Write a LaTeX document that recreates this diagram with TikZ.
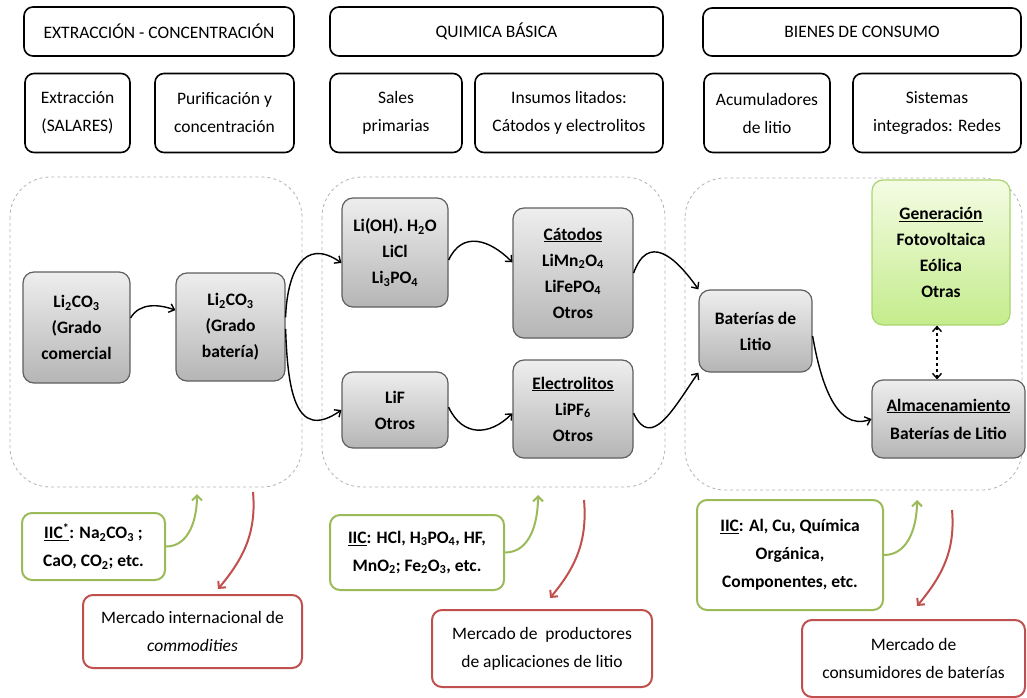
\documentclass[tikz,border=0pt]{standalone}
\usepackage{fontspec}
\setmainfont{Carlito}
\usetikzlibrary{arrows.meta}
\definecolor{boxline}{HTML}{5F5F5F}
\definecolor{boxtop}{HTML}{EEEEEE}
\definecolor{boxbot}{HTML}{B5B5B5}
\definecolor{iicgreen}{HTML}{9BBB59}
\definecolor{mktred}{HTML}{C0504D}
\definecolor{gentop}{HTML}{F4FCE3}
\definecolor{genbot}{HTML}{C4EC8C}
\definecolor{genline}{HTML}{A9D46F}
\begin{document}
\begin{tikzpicture}[x=1pt,y=-1pt,
	hdr/.style={draw,line width=1.6pt,rounded corners=9pt,align=center,inner sep=2pt,font=\fontsize{17.5}{28}\selectfont},
	proc/.style={draw=boxline,line width=1.2pt,rounded corners=11pt,top color=boxtop,bottom color=boxbot,align=center,inner sep=2pt,font=\bfseries\fontsize{17.5}{26}\selectfont},
	gen/.style={proc,draw=genline,top color=gentop,bottom color=genbot},
	grp/.style={draw=gray!60,dashed,line width=0.8pt,rounded corners=40pt},
	iic/.style={draw=iicgreen,line width=2pt,rounded corners=10pt,fill=white,align=center,inner sep=2pt,font=\bfseries\fontsize{17.5}{28}\selectfont},
	mkt/.style={draw=mktred,line width=2pt,rounded corners=10pt,fill=white,align=center,inner sep=2pt,font=\fontsize{17.5}{28}\selectfont},
	flow/.style={line width=1.4pt,-{Straight Barb[length=5pt,width=9pt]}},
	gin/.style={draw=iicgreen,line width=2pt,-{Straight Barb[length=5pt,width=10pt]}},
	rout/.style={draw=mktred,line width=2pt,-{Straight Barb[length=5pt,width=10pt]}}]
	\useasboundingbox (0,0) rectangle (1027,698);
	% headers
	\node [hdr,minimum width=270pt,minimum height=49pt] (h1) at (159,31.5) {EXTRACCIÓN - CONCENTRACIÓN};
	\node [hdr,minimum width=333pt,minimum height=49pt] (h2) at (496.5,31.5) {QUIMICA BÁSICA};
	\node [hdr,minimum width=318pt,minimum height=48pt] (h3) at (862,32) {BIENES DE CONSUMO};
	\node [hdr,minimum width=105pt,minimum height=79pt] (s1) at (77.5,113) {Extracción\\(SALARES)};
	\node [hdr,minimum width=139pt,minimum height=79pt] (s2) at (224.5,113) {Purificación y\\concentración};
	\node [hdr,minimum width=132pt,minimum height=79pt] (s3) at (396,113) {Sales\\primarias};
	\node [hdr,minimum width=188pt,minimum height=79pt] (s4) at (569,113) {Insumos litados:\\Cátodos y electrolitos};
	\node [hdr,minimum width=126pt,minimum height=79pt] (s5) at (767,113) {Acumuladores\\de litio};
	\node [hdr,minimum width=168pt,minimum height=79pt] (s6) at (937,113) {Sistemas\\integrados: Redes};
	% stages
	\draw [grp] (10,177) rectangle (302,487);
	\draw [grp] (322,177) rectangle (665,487);
	\draw [grp] (685,178) rectangle (1022,490);
	\node [proc,minimum width=107pt,minimum height=111pt] (com) at (76.5,327.5) {Li\textsubscript{2}CO\textsubscript{3}\\(Grado\\comercial};
	\node [proc,minimum width=109pt,minimum height=108pt] (bat) at (230.5,327) {Li\textsubscript{2}CO\textsubscript{3}\\(Grado\\batería)};
	\node [proc,minimum width=106pt,minimum height=109pt] (sal) at (395,252.5) {Li(OH). H\textsubscript{2}O\\LiCl\\Li\textsubscript{3}PO\textsubscript{4}};
	\node [proc,minimum width=120pt,minimum height=130pt] (cat) at (573,273) {\underline{Cátodos}\\LiMn\textsubscript{2}O\textsubscript{4}\\LiFePO\textsubscript{4}\\Otros};
	\node [proc,minimum width=106pt,minimum height=76pt] (lif) at (395,410) {LiF\\Otros};
	\node [proc,minimum width=120pt,minimum height=98pt] (ele) at (573,409) {\underline{Electrolitos}\\LiPF\textsubscript{6}\\Otros};
	\node [proc,minimum width=113pt,minimum height=82pt] (btl) at (755.5,331) {Baterías de\\Litio};
	\node [gen,minimum width=138pt,minimum height=145pt] (gnr) at (941,252.5) {\underline{Generación}\\Fotovoltaica\\Eólica\\Otras};
	\node [proc,minimum width=153pt,minimum height=78pt,font=\bfseries\fontsize{17.5}{28}\selectfont] (alm) at (948.5,419) {\underline{Almacenamiento}\\Baterías de Litio};
	% flows
	\draw [flow] (com.10) to[out=60,in=160] (bat.163);
	\draw [flow] (bat.10) to[out=88,in=145,looseness=1.5] (sal.191);
	\draw [flow] (bat.-2) to[out=-88,in=-145,looseness=1.5] (lif.west);
	\draw [flow] (sal.-8) to[out=65,in=135,looseness=1.3] (cat.170);
	\draw [flow] (lif.3) to[out=-65,in=-135,looseness=1.3] (ele.184);
	\draw [flow] (cat.east) to[out=70,in=125,looseness=1.6] (btl.north west);
	\draw [flow] (ele.-4) to[out=-65,in=-125,looseness=1.4] (btl.south west);
	\draw [flow] (btl.-5) to[out=-80,in=200] (alm.west);
	\draw [flow,dashed,{Straight Barb[length=5pt,width=9pt]}-{Straight Barb[length=5pt,width=9pt]}] (gnr.south -| 937,0) -- (alm.north -| 937,0);
	% inputs and markets
	\node [iic,minimum width=143pt,minimum height=67pt] (iic1) at (93.5,546.5) {\underline{IIC\textsuperscript{*}}: Na\textsubscript{2}CO\textsubscript{3} ;\\CaO, CO\textsubscript{2}; etc.};
	\node [iic,minimum width=174pt,minimum height=75pt] (iic2) at (417,552.5) {\underline{IIC}: HCl, H\textsubscript{3}PO\textsubscript{4}, HF,\\MnO\textsubscript{2}; Fe\textsubscript{2}O\textsubscript{3}, etc.};
	\node [iic,minimum width=186pt,minimum height=110pt] (iic3) at (790,555) {\underline{IIC}: Al, Cu, Química\\Orgánica,\\Componentes, etc.};
	\node [mkt,minimum width=219pt,minimum height=73pt] (mk1) at (192.5,631.5) {Mercado internacional de\\\textit{commodities}};
	\node [mkt,minimum width=220pt,minimum height=77pt] (mk2) at (542,648.5) {Mercado de\ \ productores\\de aplicaciones de litio};
	\node [mkt,minimum width=223pt,minimum height=77pt] (mk3) at (913.5,658.5) {Mercado de\\consumidores de baterías};
	\coordinate (in1) at (197,494);
	\coordinate (out1) at (253,492);
	\coordinate (mt1) at (218,589);
	\coordinate (in2) at (538,495);
	\coordinate (out2) at (584,500);
	\coordinate (mt2) at (550,598);
	\coordinate (in3) at (917,500);
	\coordinate (out3) at (952,510);
	\coordinate (mt3) at (917,606);
	\draw [gin] (iic1.east) to[out=0,in=-90] (in1);
	\draw [gin] (iic2.east) to[out=0,in=-90] (in2);
	\draw [gin] (iic3.east) to[out=0,in=-90] (in3);
	\draw [rout] (out1) to[out=-85,in=50] (mt1);
	\draw [rout] (out2) to[out=-85,in=50] (mt2);
	\draw [rout] (out3) to[out=-85,in=50] (mt3);
\end{tikzpicture}
\end{document}
